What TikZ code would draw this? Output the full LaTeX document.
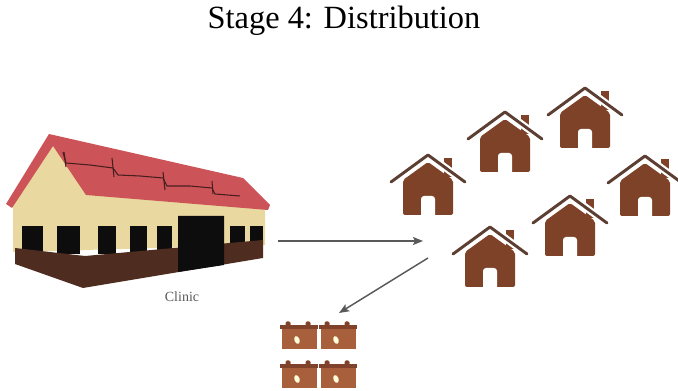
\documentclass[tikz,border=0pt]{standalone}
\usepackage{fontspec}
\setmainfont{Liberation Serif}
\usetikzlibrary{arrows.meta}

\definecolor{roofred}{RGB}{204,84,88}
\definecolor{wallcream}{RGB}{233,216,160}
\definecolor{basebrown}{RGB}{78,45,32}
\definecolor{panelline}{RGB}{70,30,30}
\definecolor{housebrown}{RGB}{126,66,40}
\definecolor{eavebrown}{RGB}{92,62,50}
\definecolor{cellbody}{RGB}{168,96,60}
\definecolor{celltop}{RGB}{128,66,42}

\tikzset{
  % house icon, origin at the top of the roof line, y going down
  house/.pic={
    \begin{scope}[yscale=-1]
    \fill[housebrown] (16,3) rectangle (24,22);
    \fill[housebrown,rounded corners=1.5] (0,7) -- (25,25) -- (25,60) -- (-25,60) -- (-25,25) -- cycle;
    \fill[white] (-7,61) -- (-7,44) arc[start angle=180,end angle=270,radius=3] -- (4,41) arc[start angle=270,end angle=360,radius=3] -- (7,61) -- cycle;
    \draw[white,line width=5.5pt] (-37,27) -- (0,0) -- (37,27);
    \draw[eavebrown,line width=2.2pt,line cap=round,line join=round] (-37,27) -- (0,0) -- (37,27);
    \end{scope}
  },
  % battery icon, origin at the top left of the lid, y going down
  battery/.pic={
    \begin{scope}[yscale=-1]
    \fill[celltop,rounded corners=1] (5.5,-3.5) rectangle (10.5,1) (25.5,-3.5) rectangle (30.5,1);
    \fill[cellbody] (2,4) rectangle (37,24);
    \fill[celltop] (0,0) rectangle (38,4.5);
    \fill[white!85!yellow,rotate around={-20:(17,15)}] (17,15) ellipse [x radius=2.6, y radius=4];
    \end{scope}
  }
}

\begin{document}
\begin{tikzpicture}[x=0.75pt,y=0.75pt,yscale=-1,xscale=1,
    flow/.style={draw=black!65,line width=1.1pt,-{Stealth[length=7.5pt,width=6pt,inset=1.5pt]}}]
    \useasboundingbox (0,0) rectangle (678,391);

    \node (title) [anchor=base] at (344,29) {\fontsize{24.3}{28}\selectfont Stage 4: Distribution};

    % clinic walls
    \fill[wallcream] (13,205) -- (53,146) -- (86,194) -- (265,209) -- (265,245) -- (13,252) -- cycle;
    % windows
    \foreach \xa/\xb in {22/43,57/80,98/116,130/147,157/172,230/245,250/263}
        \fill[black!95] (\xa,226) rectangle (\xb,254);
    % base
    \fill[basebrown] (15,248) -- (85,256) -- (263,240) -- (263,258) -- (83,288) -- (15,264) -- cycle;
    % door
    \fill[black!95] (178,216) -- (224,216) -- (224,265) -- (178,272) -- cycle;
    % roof
    \fill[roofred] (6,204) -- (49,134) -- (243,178) -- (270,205) -- (268,210) -- (86,195) -- (53,146) -- (12,208) -- cycle;
    \draw[panelline,line width=0.8pt,line join=round] (63,152) -- (66,163) -- (90,165) -- (113,168) -- (118,175) -- (140,176) -- (163,178) -- (167,186) -- (190,186) -- (212,188) -- (215,194) -- (240,196);
    \draw[panelline,line width=0.8pt] (64,152) -- (66,167) (112,158) -- (114,177) (163,172) -- (165,190) (212,181) -- (213,194);

    \node (clinic) [text=black!65] at (182,297) {\fontsize{10.5}{12}\selectfont Clinic};

    % houses
    \pic at (428,155) {house};
    \pic at (505,112) {house};
    \pic at (585,88) {house};
    \pic at (645,156) {house};
    \pic at (570,196) {house};
    \pic at (490,227) {house};

    % batteries
    \foreach \bx in {280,319}
        \foreach \by in {325,364}
            \pic at (\bx,\by) {battery};

    \coordinate (clinicout) at (278,241);
    \coordinate (hubin) at (423,241);
    \coordinate (hubout) at (428,258);
    \coordinate (storein) at (339,313);
    \draw[flow] (clinicout) -- (hubin);
    \draw[flow] (hubout) -- (storein);

\end{tikzpicture}
\end{document}
